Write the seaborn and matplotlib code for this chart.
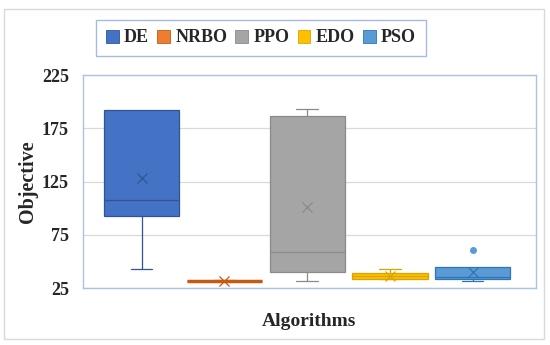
import numpy as np
import pandas as pd
import matplotlib
matplotlib.use("Agg")
import matplotlib.pyplot as plt
import matplotlib.patches as mpatches
import seaborn as sns

# observations per algorithm (9 runs each)
algorithms = ["DE", "NRBO", "PPO", "EDO", "PSO"]
de_vals = [43.5, 88.0, 92.5, 100.0, 107.6, 143.5, 192.3, 192.3, 192.3]
nrbo_vals = [31.6, 31.8, 31.9, 32.0, 32.0, 32.1, 32.2, 32.3, 32.5]
ppo_vals = [32.2, 36.0, 40.1, 50.0, 59.0, 121.8, 186.9, 190.0, 193.0]
edo_vals = [33.3, 33.8, 34.1, 35.5, 36.5, 37.8, 39.2, 39.5, 43.0]
pso_vals = [31.6, 33.9, 34.1, 35.8, 36.0, 44.2, 44.8, 44.8, 61.1]

fill_colors = ["#4472C4", "#ED7D31", "#A5A5A5", "#FFC000", "#5B9BD5"]
edge_colors = ["#2F5597", "#C55A11", "#8A8A8A", "#D9A400", "#2E75B6"]
y_ticks = [25, 75, 125, 175, 225]

rows = []
for name, vals in zip(algorithms, [de_vals, nrbo_vals, ppo_vals, edo_vals, pso_vals]):
    for v in vals:
        rows.append({"Algorithm": name, "Objective": v})
df = pd.DataFrame(rows)

sns.set_style("white")
plt.rcParams["font.family"] = ["Liberation Serif", "DejaVu Serif"]

fig = plt.figure(figsize=(5.5, 3.45), dpi=100)
ax = fig.add_axes([0.1504, 0.1643, 0.8241, 0.6183])

sns.boxplot(data=df, x="Algorithm", y="Objective", hue="Algorithm",
            order=algorithms, hue_order=algorithms, palette=fill_colors,
            width=0.91, showmeans=True, legend=False, ax=ax,
            linewidth=0.9,
            meanprops=dict(marker="x", markersize=7, markeredgewidth=0.9),
            flierprops=dict(marker="o", markersize=4))

# recolour each box with its own darker edge
for i, cont in enumerate(ax.containers):
    ec = edge_colors[i]
    for b in cont.boxes:
        b.set_edgecolor(ec)
        b.set_facecolor(fill_colors[i])
    for ln in list(cont.whiskers) + list(cont.caps) + list(cont.medians):
        ln.set_color(ec)
    for ln in cont.means:
        ln.set_markeredgecolor(ec)
        ln.set_markerfacecolor(ec)
    for ln in cont.fliers:
        ln.set_markerfacecolor(fill_colors[i])
        ln.set_markeredgecolor(fill_colors[i])
    for ln in cont.caps:
        xd = ln.get_xdata()
        c = np.mean(xd)
        ln.set_xdata([c - 0.13, c + 0.13])

# caps sitting on the box edge are not drawn in the original
for i in (0, 4):
    cont = ax.containers[i]
    cont.caps[1].set_visible(False)

# NRBO is almost flat: draw it thicker
for ln in ax.containers[1].medians:
    ln.set_linewidth(2.5)

ax.set_xlim(-0.713, 4.765)
ax.set_ylim(25, 225)
ax.set_yticks(y_ticks)
ax.set_yticklabels([str(t) for t in y_ticks], fontsize=13, fontweight="bold")
ax.set_xticks([])
ax.tick_params(axis="y", length=0, pad=10)
ax.yaxis.grid(True, color="#D9D9D9", linewidth=0.9)
ax.set_axisbelow(True)
for s in ax.spines.values():
    s.set_color("#A9C4EB")
    s.set_linewidth(1.0)
ax.set_xlabel("Algorithms", fontsize=14, fontweight="bold", labelpad=18)
ax.set_ylabel("Objective", fontsize=14.5, fontweight="bold", labelpad=3)

handles = [mpatches.Patch(facecolor=fc, edgecolor=ec, linewidth=0.6, label=n)
           for n, fc, ec in zip(algorithms, fill_colors, edge_colors)]
leg = fig.legend(handles=handles, loc="center", bbox_to_anchor=(261 / 550, 1 - 38 / 345),
                 ncol=5, prop=dict(weight="bold", size=13),
                 handlelength=0.7, handleheight=0.7, handletextpad=0.3,
                 columnspacing=0.45, borderpad=0.55, fancybox=False)
leg.get_frame().set_edgecolor("#8FAADC")
leg.get_frame().set_linewidth(1.0)

fig.patches.append(mpatches.Rectangle((4 / 550, 1 - 339 / 345), 540 / 550, 330 / 345,
                                      transform=fig.transFigure, fill=False,
                                      edgecolor="#D9D9D9", linewidth=1.0))

fig.savefig("out.png", dpi=100)
